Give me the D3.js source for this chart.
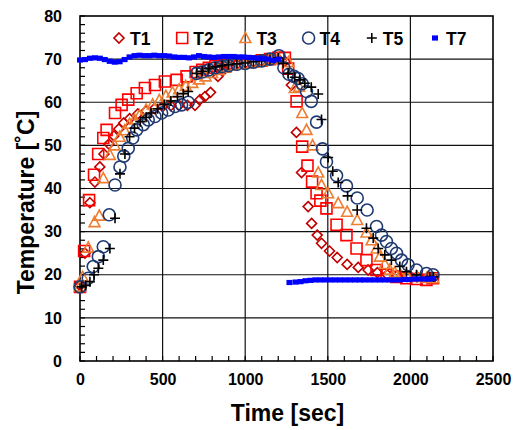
<!DOCTYPE html>
<html><head><meta charset="utf-8">
<script src="https://cdn.jsdelivr.net/npm/d3@7"></script>
<style>body{margin:0;background:#fff}svg{display:block}text{font-family:"Liberation Sans",Arial,sans-serif;font-weight:bold}</style>
</head><body><svg id="c" width="520" height="430"></svg>
<script>
// ---- data ----
const seriesNames = ["T1","T2","T3","T4","T5","T7"];
const xTickValues = [0,500,1000,1500,2000,2500];
const yTickValues = [0,10,20,30,40,50,60,70,80];
const T1 = [[0,17.5],[30,25],[60,36.7],[90,41.5],[120,45],[145,48],[175,50.3],[205,52.2],[235,53.8],[265,55.2],[300,56.2],[350,57.3],[400,58],[450,58.5],[500,59],[550,59.2],[600,59.3],[650,59.3],[696,59.3],[726,60.6],[756,61.3],[790,62.3],[835,66],[870,67.5],[900,68.3],[950,68.8],[1000,69],[1050,69.3],[1100,69.5],[1150,69.8],[1200,70],[1240,69.5],[1280,64],[1310,53],[1341,43.7],[1381,35.8],[1402,31.9],[1436,29.2],[1462,27.3],[1510,25.5],[1557,24],[1617,22.4],[1684,21.7],[1744,21.1],[1800,20.5],[1860,20],[1920,19.8],[1980,19.6],[2040,19.5],[2100,19.3],[2140,19.3]];
const T2 = [[0,17.2],[25,25.5],[55,37.3],[85,43.2],[110,48],[141,51.7],[161,53.6],[212,57.5],[252,59.4],[292,60.6],[343,62.1],[393,63.3],[454,64],[514,64.8],[585,65.2],[645,66],[700,67],[740,67.5],[780,68],[820,68.5],[860,68.8],[900,69],[950,69.2],[1000,69.3],[1050,69.5],[1100,69.7],[1150,70],[1200,70.3],[1240,70.3],[1260,67.8],[1311,60.2],[1345,49.7],[1377,45.3],[1405,41.6],[1432,38.9],[1455,37.2],[1492,35.4],[1553,31.6],[1613,29.2],[1674,26.1],[1734,23.4],[1795,21.1],[1855,20],[1915,19.5],[1975,19.2],[2037,19],[2097,18.8],[2136,19.2]];
const T3 = [[0,17.3],[16,19.5],[50,26.3],[88,32.2],[117,33.7],[141,42.4],[181,47.8],[210,50],[240,52],[270,53.5],[300,55],[330,56],[360,57],[400,58.3],[440,59.5],[480,60.5],[520,61.5],[560,62.3],[600,63],[640,63.8],[680,64.5],[720,65.3],[760,66],[800,66.8],[840,67.5],[880,68],[920,68.5],[960,68.8],[1000,69],[1050,69.3],[1100,69.6],[1150,69.9],[1200,70.2],[1262,69.3],[1300,63.3],[1327,63.6],[1345,57.5],[1371,53.6],[1408,50],[1442,43.7],[1462,40.8],[1502,38.9],[1563,36.6],[1617,34.6],[1678,32.7],[1734,29.8],[1765,28],[1795,26.1],[1815,24.2],[1845,22.5],[1875,21.2],[1905,20.5],[1940,20],[1980,19.8],[2040,19.5],[2100,19.3],[2140,19.2]];
const T4 = [[0,17.2],[50,19.2],[80,21.9],[111,24.2],[141,26.5],[177,33.9],[212,40.8],[242,45],[265,47.5],[292,49.3],[319,51.7],[343,53.6],[383,54.8],[413,55.9],[454,56.7],[494,57.5],[534,58.2],[575,59],[615,59.4],[655,60],[706,66.7],[740,67],[780,67.5],[820,68],[860,68.3],[900,68.5],[950,68.8],[1000,69],[1050,69.3],[1100,69.6],[1150,70],[1204,70.8],[1234,68],[1265,66.5],[1295,66],[1320,65.5],[1345,64.3],[1371,62.5],[1400,60.2],[1432,55.4],[1468,49.2],[1492,46.2],[1553,43],[1613,40.6],[1678,37.8],[1738,35],[1795,31.2],[1825,29.2],[1855,27.7],[1885,26.1],[1916,25],[1946,23.4],[1986,22.3],[2037,21.1],[2097,20.3],[2137,20]];
const T5 = [[10,17.2],[35,17.5],[60,18.4],[85,20],[111,21.5],[141,23.4],[181,26.1],[212,33.1],[242,43.4],[272,48],[300,52],[330,54],[365,55.5],[400,56.5],[430,57.5],[470,58.5],[510,59.5],[550,60.3],[590,61.3],[625,62],[655,62.5],[706,66.7],[740,67.2],[780,67.8],[820,68.2],[860,68.5],[900,68.7],[950,68.9],[1000,69.1],[1050,69.4],[1100,69.6],[1150,69.9],[1200,70.3],[1230,69],[1260,66.7],[1300,65.8],[1331,65.2],[1361,64.4],[1400,63.5],[1442,61.9],[1462,56],[1502,47.2],[1530,44],[1563,41.4],[1620,38.3],[1678,35],[1734,30.8],[1775,28.5],[1805,26.1],[1845,24.6],[1885,23.4],[1936,21.9],[1976,20.7],[2037,20],[2117,19.6],[2140,19.5]];
const T7 = [[0,69.8],[30,69.9],[60,70.2],[90,70.3],[120,70.2],[150,69.9],[180,69.5],[210,69.3],[240,69.4],[270,69.9],[300,70.5],[330,70.8],[360,70.9],[390,70.8],[420,70.8],[450,70.9],[480,70.8],[510,70.8],[540,70.7],[570,70.5],[600,70.4],[630,70.4],[660,70.3],[690,70.5],[720,70.8],[750,70.6],[780,70.5],[810,70.4],[840,70.5],[870,70.6],[900,70.6],[930,70.6],[960,70.5],[990,70.5],[1020,70.4],[1050,70.3],[1080,70.2],[1110,70.1],[1140,70],[1170,69.7],[1200,70],
 [1268,18.2],[1305,18.3],[1335,18.4],[1365,18.6],[1395,18.7],[1425,18.8],[1455,18.8],[1485,18.8],[1515,18.8],[1545,18.8],[1575,18.8],[1605,18.8],[1635,18.8],[1665,18.8],[1695,18.8],[1722,18.8],[1755,18.8],[1785,18.8],[1815,18.8],[1845,18.8],[1875,18.8],[1905,18.8],[1935,18.8],[1965,18.9],[1995,18.9],[2025,19],[2055,19],[2085,19],[2115,19],[2138,19.1]];

// ---- layout ----
const svg = d3.select("#c");
const L=80,R=493,T=16,B=361;
const x = d3.scaleLinear().domain([0,2500]).range([L,R]);
const y = d3.scaleLinear().domain([0,80]).range([B,T]);

// grid
const g = svg.append("g");
g.selectAll(".gx").data(xTickValues.slice(1,-1)).join("line")
 .attr("x1",d=>x(d)).attr("x2",d=>x(d)).attr("y1",T).attr("y2",B).attr("stroke","#111").attr("stroke-width",1.2);
g.selectAll(".gy").data(yTickValues.slice(1,-1)).join("line")
 .attr("y1",d=>y(d)).attr("y2",d=>y(d)).attr("x1",L).attr("x2",R).attr("stroke","#111").attr("stroke-width",1.2);

// minor ticks inward
const xMinor = d3.range(0,2501,100), yMinor = d3.range(0,81,2);
g.selectAll(".mx").data(xMinor).join("line").attr("x1",d=>x(d)).attr("x2",d=>x(d)).attr("y1",B).attr("y2",B-5).attr("stroke","#000").attr("stroke-width",1.2);
g.selectAll(".my").data(yMinor).join("line").attr("y1",d=>y(d)).attr("y2",d=>y(d)).attr("x1",L).attr("x2",L+5).attr("stroke","#000").attr("stroke-width",1.2);

// axes labels
const xAxis = d3.axisBottom(x).tickValues(xTickValues).tickSize(0).tickPadding(13).tickFormat(d3.format("d"));
const ax = svg.append("g").attr("transform",`translate(0,${B})`).call(xAxis);
ax.select(".domain").remove();
ax.selectAll("text").attr("font-size",16).attr("fill","#000").attr("font-family","Liberation Sans, Arial, sans-serif").attr("font-weight","bold");
const yAxis = d3.axisLeft(y).tickValues(yTickValues).tickSize(0).tickPadding(18).tickFormat(d3.format("d"));
const ay = svg.append("g").attr("transform",`translate(${L},0)`).call(yAxis);
ay.select(".domain").remove();
ay.selectAll("text").attr("font-size",16).attr("fill","#000").attr("font-family","Liberation Sans, Arial, sans-serif").attr("font-weight","bold");

// frame
svg.append("rect").attr("x",L).attr("y",T).attr("width",R-L).attr("height",B-T).attr("fill","none").attr("stroke","#000").attr("stroke-width",1.6);

// titles
svg.append("text").attr("x",(L+R)/2+1).attr("y",421).attr("text-anchor","middle").attr("font-size",23).text("Time [sec]");
svg.append("text").attr("transform",`translate(34,${(T+B)/2+14}) rotate(-90)`).attr("text-anchor","middle").attr("font-size",23).text("Temperature [\u02DAC]");

// marker shapes
const shapes = {
 T1:{color:"#C00000", path:"M0,-5L5,0L0,5L-5,0Z", fill:"none"},
 T2:{color:"#FF0000", path:"M-5.5,-5.5H5.5V5.5H-5.5Z", fill:"none"},
 T3:{color:"#ED7D31", path:"M0,-5.6L5.4,4.5H-5.4Z", fill:"none"},
 T4:{color:"#1F3A73", path:"M6,0A6,6 0 1,1 -6,0A6,6 0 1,1 6,0Z", fill:"none"},
 T5:{color:"#000000", path:"M-5,0H5M0,-5V5", fill:"none"},
 T7:{color:"#0000FF", path:"M-3,-2.6H3V2.6H-3Z", fill:"#0000FF"}
};
const data = {T1,T2,T3,T4,T5,T7};
const plot = svg.append("g");
seriesNames.forEach(n=>{
  const s = shapes[n];
  plot.append("g").selectAll("path").data(data[n]).join("path")
   .attr("d",s.path).attr("transform",d=>`translate(${x(d[0])},${y(d[1])})`)
   .attr("fill",s.fill).attr("stroke",n==="T7"?"none":s.color).attr("stroke-width",1.6);
});

// legend
const leg = svg.append("g");
seriesNames.forEach((n,i)=>{
  const s = shapes[n];
  const lx = 119 + i*63.2, ly = 38;
  leg.append("path").attr("d",s.path).attr("transform",`translate(${lx},${ly})`).attr("fill",s.fill).attr("stroke",n==="T7"?"none":s.color).attr("stroke-width",1.6);
  leg.append("text").attr("x",lx+11).attr("y",ly+6.5).attr("font-size",17.5).attr("fill","#000").text(n);
});
</script></body></html>
